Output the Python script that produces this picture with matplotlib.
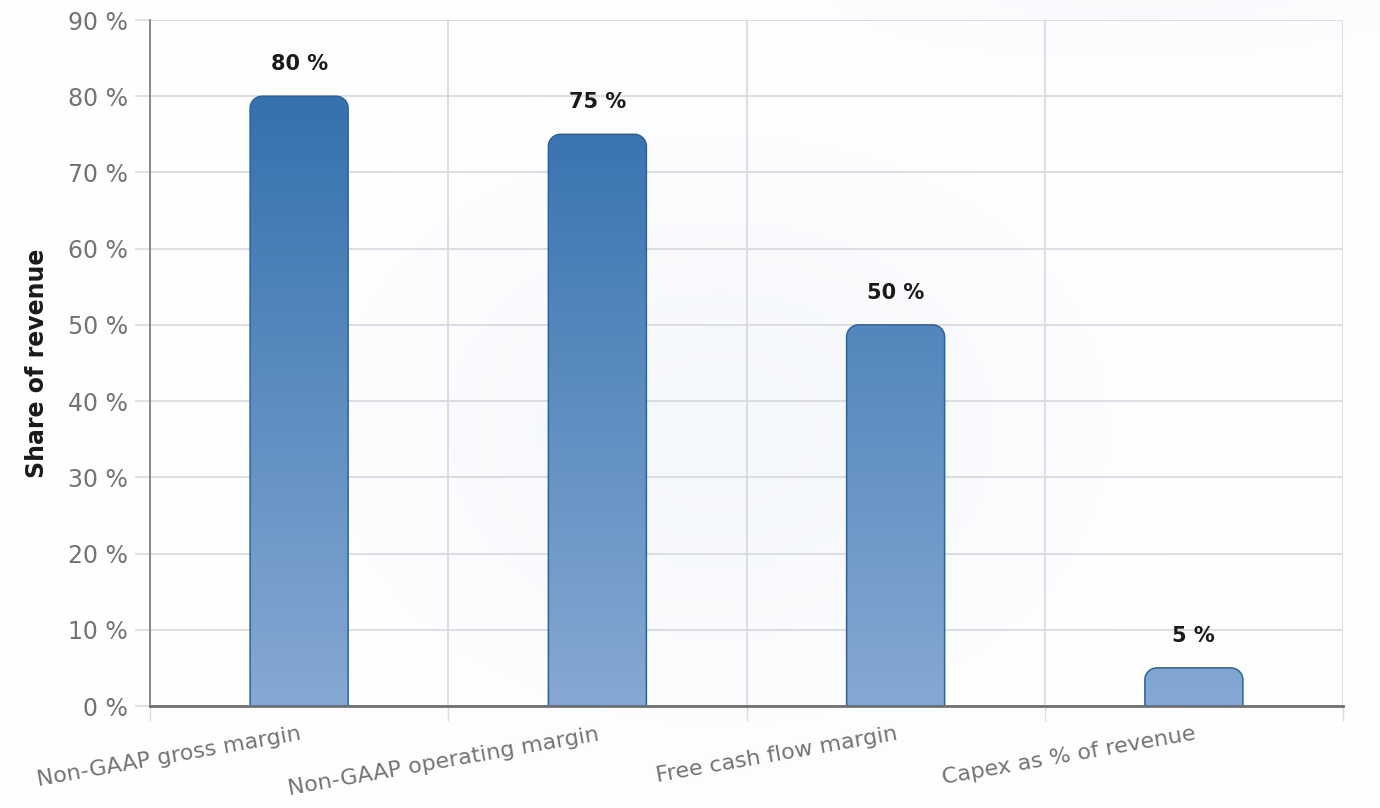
import matplotlib
matplotlib.use("Agg")
import matplotlib.pyplot as plt
import numpy as np
from matplotlib.path import Path
from matplotlib.patches import PathPatch
from matplotlib.colors import LinearSegmentedColormap

categories = ["Non-GAAP gross margin", "Non-GAAP operating margin",
              "Free cash flow margin", "Capex as % of revenue"]
values = [80, 75, 50, 5]
yticks = [0, 10, 20, 30, 40, 50, 60, 70, 80, 90]
ytick_labels = [f"{t} %" for t in yticks]

W, H = 1380, 808
fig = plt.figure(figsize=(W / 100, H / 100), dpi=100)
fig.patch.set_facecolor("white")

# faint radial glow behind everything
bg = fig.add_axes([0, 0, 1, 1], zorder=-10)
bg.set_axis_off()
yy, xx = np.mgrid[0:H, 0:W]
glow = np.exp(-(((xx - 720) / 330.0) ** 2 + ((yy - 430) / 250.0) ** 2))
glow2 = np.exp(-(((xx - 1150) / 300.0) ** 2 + ((yy + 30) / 80.0) ** 2))
a = np.clip(0.28 * glow + 0.2 * glow2, 0, 1)
rgb = np.ones((H, W, 3))
tint = np.array([0.85, 0.89, 0.95])
rgb = rgb * (1 - a[..., None]) + tint * a[..., None]
bg.imshow(rgb, extent=[0, 1, 0, 1], aspect="auto", origin="upper")

ax = fig.add_axes([150 / W, 1 - 706 / H, 1193 / W, 686 / H])
ax.set_facecolor("none")
ax.set_xlim(-0.5, len(categories) - 0.5)
ax.set_ylim(0, 90)

x = np.arange(len(categories))
ax.set_xticks(x)
ax.set_xticklabels(categories, rotation=10, ha="right", rotation_mode="anchor",
                   color="#737373", fontsize=16)
ax.set_xticks(np.arange(len(categories) + 1) - 0.5, minor=True)
ax.tick_params(axis="x", which="major", length=0, pad=13)
ax.tick_params(axis="x", which="minor", length=11, color="#dcdcdc", width=1)
ax.set_yticks(yticks)
ax.set_yticklabels(ytick_labels, color="#737373", fontsize=17)
ax.tick_params(axis="y", length=11, color="#dcdcdc", width=1.2, pad=5)

ax.grid(axis="y", which="major", color="#d6d8dc", lw=1.2)
ax.grid(axis="x", which="minor", color="#d6d8dc", lw=1.2)
ax.set_axisbelow(True)

for s in ["top", "right"]:
    ax.spines[s].set_visible(False)
ax.spines["left"].set_color("#777777")
ax.spines["left"].set_linewidth(1.2)
ax.spines["bottom"].set_color("#707070")
ax.spines["bottom"].set_linewidth(2)
ax.spines["bottom"].set_zorder(5)

# pixel size per data unit, for rounded corners
p0 = ax.transData.transform((0, 0))
p1 = ax.transData.transform((1, 1))
px_x, px_y = p1[0] - p0[0], p1[1] - p0[1]
rad = 12
rx, ry = rad / px_x, rad / px_y

cmap = LinearSegmentedColormap.from_list("bars", ["#85a9d2", "#3571af"])
bw = 98 / px_x
k = 0.5523

for i, v in enumerate(values):
    x0 = i - bw / 2
    verts = [(x0, 0), (x0, v - ry), (x0, v - ry + k * ry), (x0 + rx - k * rx, v),
             (x0 + rx, v), (x0 + bw - rx, v), (x0 + bw - rx + k * rx, v),
             (x0 + bw, v - ry + k * ry), (x0 + bw, v - ry), (x0 + bw, 0), (x0, 0)]
    codes = [Path.MOVETO, Path.LINETO, Path.CURVE4, Path.CURVE4, Path.CURVE4,
             Path.LINETO, Path.CURVE4, Path.CURVE4, Path.CURVE4, Path.LINETO,
             Path.CLOSEPOLY]
    patch = PathPatch(Path(verts, codes), facecolor="none", edgecolor="#2a62a6",
                      lw=1.1, zorder=3)
    ax.add_patch(patch)
    grad = np.linspace(v / 80.0, 0, 200).reshape(-1, 1)
    im = ax.imshow(grad, extent=[x0, x0 + bw, 0, v], aspect="auto", cmap=cmap,
                   vmin=0, vmax=1, zorder=2, origin="upper")
    im.set_clip_path(patch)
    ax.annotate(f"{v} %", (i, v), xytext=(0, 23), textcoords="offset points",
                ha="center", va="center", fontsize=15, fontweight="bold",
                color="#1a1a1a")

ax.set_xlim(-0.5, len(categories) - 0.5)
ax.set_ylim(0, 90)

fig.text(37 / W, 1 - 363 / H, "Share of revenue", rotation=90, ha="center",
         va="center", fontsize=17, fontweight="bold", color="#1a1a1a")

fig.savefig("out.png", dpi=100)
